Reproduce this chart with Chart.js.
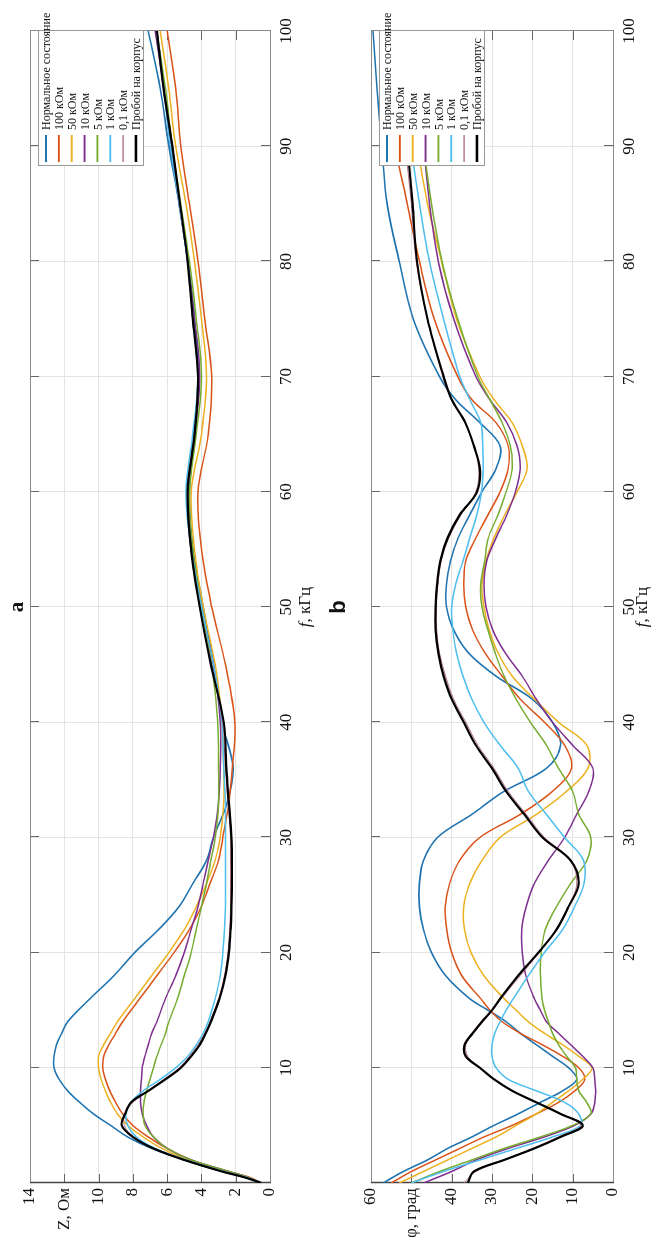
<!DOCTYPE html>
<html>
<head>
<meta charset="utf-8">
<script src="https://cdn.jsdelivr.net/npm/chart.js@4.4.0/dist/chart.umd.min.js"></script>
<style>
  html, body { margin: 0; padding: 0; background: #fff; width: 653px; height: 1237px; overflow: hidden; }
  body { position: relative; }
  .panel { position: absolute; top: 1237px; transform: rotate(-90deg); transform-origin: 0 0; }
  .panel canvas { display: block; }
  #panel-a { left: 0; width: 1237px; height: 320px; }
  #panel-b { left: 320px; width: 1237px; height: 333px; }
</style>
</head>
<body>
<div class="panel" id="panel-a"><canvas id="chart-a" width="1237" height="320"></canvas></div>
<div class="panel" id="panel-b"><canvas id="chart-b" width="1237" height="333"></canvas></div>
<script>
// --- data ---
const seriesNames = ['Нормальное состояние', '100 кОм', '50 кОм', '10 кОм', '5 кОм', '1 кОм', '0,1 кОм', 'Пробой на корпус'];
const freqTicks = [0, 10, 20, 30, 40, 50, 60, 70, 80, 90, 100];
const zTicks = [0, 2, 4, 6, 8, 10, 12, 14];
const phiTicks = [0, 10, 20, 30, 40, 50, 60];

// a) impedance, Z Ом
const freqZ = [0, 0.5, 1, 2, 3, 4, 5, 6, 7, 8, 9, 10, 11, 12, 13, 14, 16, 18, 20, 22, 24, 26, 28, 30, 33, 36, 40, 45, 50, 55, 60, 65, 70, 75, 80, 85, 90, 95, 100];
const zNormal = [0.5, 1.5, 2.8, 5.0, 6.9, 8.3, 9.3, 10.3, 11.1, 11.8, 12.3, 12.6, 12.6, 12.45, 12.15, 11.8, 10.5, 9.1, 7.9, 6.5, 5.3, 4.5, 3.7, 3.3, 2.5, 2.15, 2.8, 3.3, 3.9, 4.5, 4.7, 4.4, 4.2, 4.4, 4.8, 5.3, 5.9, 6.4, 7.1];
const z100k = [0.5, 1.2, 2.4, 4.6, 6.0, 7.1, 8.0, 8.6, 9.0, 9.35, 9.6, 9.75, 9.7, 9.4, 9.0, 8.6, 7.6, 6.6, 5.6, 4.7, 4.0, 3.5, 3.0, 2.75, 2.4, 2.2, 2.05, 2.6, 3.4, 4.0, 4.2, 3.6, 3.4, 3.8, 4.2, 4.7, 5.2, 5.5, 6.0];
const z50k = [0.5, 1.3, 2.5, 4.8, 6.3, 7.4, 8.3, 8.9, 9.3, 9.6, 9.85, 10.0, 10.0, 9.7, 9.3, 8.9, 7.9, 6.9, 5.9, 5.0, 4.3, 3.7, 3.2, 2.9, 2.7, 2.7, 2.8, 3.2, 3.9, 4.4, 4.6, 4.0, 3.7, 4.0, 4.4, 4.9, 5.5, 5.9, 6.4];
const z10k = [0.5, 1.3, 2.4, 4.6, 6.0, 6.8, 7.2, 7.45, 7.55, 7.55, 7.5, 7.45, 7.3, 7.1, 6.9, 6.6, 6.1, 5.5, 5.0, 4.6, 4.2, 3.9, 3.6, 3.3, 3.0, 2.9, 2.9, 3.3, 4.0, 4.6, 4.8, 4.4, 4.1, 4.4, 4.8, 5.3, 5.8, 6.2, 6.7];
const z5k = [0.5, 1.3, 2.4, 4.6, 6.0, 6.8, 7.3, 7.4, 7.35, 7.2, 7.0, 6.8, 6.6, 6.35, 6.1, 5.9, 5.4, 5.0, 4.6, 4.3, 4.0, 3.7, 3.45, 3.2, 3.0, 3.0, 3.05, 3.4, 4.0, 4.5, 4.7, 4.3, 4.0, 4.3, 4.7, 5.2, 5.7, 6.1, 6.6];
const z1k = [0.5, 1.4, 2.7, 4.9, 6.7, 7.8, 8.3, 8.4, 8.1, 7.4, 6.4, 5.5, 4.8, 4.3, 3.9, 3.6, 3.2, 2.9, 2.75, 2.65, 2.6, 2.6, 2.6, 2.6, 2.6, 2.7, 2.8, 3.3, 4.0, 4.6, 4.9, 4.5, 4.2, 4.5, 4.8, 5.3, 5.8, 6.2, 6.6];
const z01k = [0.5, 1.5, 2.8, 5.0, 6.8, 7.95, 8.5, 8.45, 8.0, 7.1, 6.2, 5.3, 4.7, 4.2, 3.8, 3.5, 3.0, 2.65, 2.45, 2.35, 2.3, 2.3, 2.3, 2.3, 2.45, 2.6, 2.75, 3.4, 4.1, 4.6, 4.8, 4.4, 4.2, 4.5, 4.8, 5.25, 5.7, 6.2, 6.6];
const zFault = [0.5, 1.5, 2.8, 5.0, 6.8, 8.0, 8.65, 8.45, 8.1, 7.1, 6.1, 5.2, 4.6, 4.1, 3.75, 3.45, 2.95, 2.6, 2.4, 2.3, 2.25, 2.22, 2.22, 2.25, 2.4, 2.55, 2.7, 3.45, 4.1, 4.6, 4.8, 4.4, 4.2, 4.5, 4.8, 5.25, 5.7, 6.2, 6.6];

// b) phase, φ град
const freqPhi = [0, 1, 2, 3, 4, 5, 6, 7, 8, 9, 10, 11, 12, 13, 14, 15, 16, 18, 20, 22, 24, 26, 28, 30, 32, 34, 36, 38, 40, 42, 44, 46, 48, 50, 52, 54, 56, 58, 60, 62, 64, 66, 68, 70, 75, 80, 85, 90, 95, 100];
const phiNormal = [57, 52, 46, 41, 35, 29.5, 23.5, 18, 12.5, 9, 11, 15, 19, 23, 26.5, 31, 35.5, 41.5, 45, 47, 48, 48, 47, 43.5, 35, 27, 16.5, 13, 15, 20, 29, 35.8, 39.5, 41.3, 41.3, 40.3, 38.4, 35.5, 32.5, 29, 28, 33, 39, 43, 49.5, 53, 56, 57.3, 58.5, 59.5];
const phi100k = [55, 50, 44, 38, 32, 25, 19, 13.5, 9.5, 7, 8.5, 12.5, 17.5, 23, 27.5, 30.5, 32.8, 37.5, 40, 41.2, 41.6, 40.5, 38, 33, 23, 15, 10.3, 12, 17, 23, 27.5, 31.7, 34.8, 36.5, 37, 36.5, 34, 31, 28, 26, 26, 29, 35, 38.5, 44.3, 48, 51, 54, 55.5, 57];
const phi50k = [53, 47, 41, 35, 29, 24, 19, 15, 11, 7.5, 5.2, 8.5, 12.5, 17, 21, 24, 27, 32, 35.2, 36.8, 37, 35.5, 32.5, 28, 19, 11.5, 6.2, 6.5, 13.5, 19.5, 25, 28.5, 30.7, 32, 32.5, 31.5, 29.5, 26.8, 23.8, 21.3, 22.5, 25, 29.5, 33, 38.8, 42.5, 46, 48.5, 50, 51];
const phi10k = [47, 40, 34, 26, 17, 9.5, 5.5, 4.5, 4.3, 4.5, 5, 7.5, 10.5, 13.5, 16.5, 18, 19.5, 21.6, 22.5, 22.6, 21.5, 19.5, 16, 12, 9, 6, 5, 10, 15, 19, 22.5, 26.7, 29.8, 31.5, 32, 31.3, 29, 26.3, 24.2, 23, 23.8, 26.3, 30.5, 34, 39.5, 43.3, 45.5, 47, 48.5, 50];
const phi5k = [50, 43, 35, 27, 18, 10, 5.5, 6.5, 8.5, 9, 9.3, 11.5, 13.5, 15, 16, 17, 17.6, 18, 17.8, 16.8, 14, 10.5, 6.5, 5.5, 8.5, 10, 13.5, 16.5, 20.5, 24, 27, 29.2, 31, 32.5, 32.8, 31.8, 30.9, 28.5, 26.5, 25, 25.5, 27.5, 30.5, 33.5, 38.5, 42.4, 45, 47, 48.5, 50];
const phi1k = [50, 42, 33, 24, 15, 8, 8.5, 12, 19, 26, 29, 30, 30, 29.3, 28, 26.5, 24.7, 21, 17, 12.5, 9.5, 7.2, 7.3, 12, 16.5, 21, 23.5, 28, 32, 35, 37.2, 38.8, 39.7, 40, 39, 37.2, 35.5, 33.8, 32.6, 32.2, 32.3, 32.8, 35.5, 38, 42, 45.5, 48, 50, 51.5, 53];
const phi01k = [37, 34, 27, 20, 13.5, 8, 13, 19, 25, 29.5, 33, 36, 36.5, 34.5, 32.2, 29.8, 27.7, 23, 18.3, 14, 11, 9, 10.5, 17, 21.5, 26, 29.5, 33.5, 36.5, 39.5, 41.5, 43, 43.7, 43.8, 43.4, 42.6, 40.7, 37.7, 34, 33.3, 34.6, 36.8, 40, 42.2, 46, 48.8, 50, 51.5, 53, 54.5];
const phiFault = [36, 34.5, 27, 19.5, 13, 7.5, 13, 19, 25, 29.5, 33, 36.5, 36.8, 34.8, 32.5, 30, 28, 23.5, 18.5, 14, 11, 8.5, 10.5, 17.5, 22, 26.5, 30, 34, 37, 40, 42, 43.3, 44, 44, 43.6, 42.8, 41, 38, 33.7, 33, 34.5, 36.6, 40, 42, 46, 48.6, 49.7, 51, 52.5, 54];

// --- styles ---
const lineColors = ['#1f74b0', '#d95319', '#edb120', '#7e2f8e', '#77ac30', '#4dbeee', '#b37089', '#000000'];
const lineWidths = [1.6, 1.5, 1.5, 1.5, 1.5, 1.5, 1.0, 2.2];
const serif = '"Liberation Serif", "DejaVu Serif", serif';

function toPoints(freq, vals) {
  return freq.map((f, i) => ({ x: f, y: vals[i] }));
}

function buildDatasets(freq, seriesList) {
  return seriesList.map((vals, i) => ({
    label: seriesNames[i],
    data: toPoints(freq, vals),
    borderColor: lineColors[i],
    borderWidth: lineWidths[i],
    pointRadius: 0,
    tension: 0.35,
    fill: false,
    order: seriesList.length - i   // later series on top, like the original
  }));
}

function line(ctx, x1, y1, x2, y2) {
  ctx.beginPath();
  ctx.moveTo(x1, y1);
  ctx.lineTo(x2, y2);
  ctx.stroke();
}

// box + inner tick marks
const framePlugin = {
  id: 'frame',
  beforeDatasetsDraw(chart) {
    const { ctx, chartArea: a, scales } = chart;
    const len = 9;
    ctx.save();
    ctx.strokeStyle = '#666';
    ctx.lineWidth = 1;
    scales.x.ticks.forEach(t => {
      const px = Math.round(scales.x.getPixelForValue(t.value)) + 0.5;
      line(ctx, px, a.top, px, a.top + len);
      line(ctx, px, a.bottom, px, a.bottom - len);
    });
    scales.y.ticks.forEach(t => {
      const py = Math.round(scales.y.getPixelForValue(t.value)) + 0.5;
      line(ctx, a.left, py, a.left + len, py);
      line(ctx, a.right, py, a.right - len, py);
    });
    ctx.strokeStyle = '#8a8a8a';
    ctx.strokeRect(Math.round(a.left) + 0.5, Math.round(a.top) + 0.5, Math.round(a.right - a.left), Math.round(a.bottom - a.top));
    ctx.strokeStyle = '#444';
    ctx.lineWidth = 1.5;
    line(ctx, a.left + 0.5, a.top, a.left + 0.5, a.bottom + 1);
    ctx.restore();
  }
};

// legend box, axis title and panel caption
const decorPlugin = {
  id: 'decor',
  afterDatasetsDraw(chart) {
    const { ctx, chartArea: a } = chart;
    const bx = a.right - 135, by = a.top + 8, bw = 135, bh = 105;
    ctx.save();
    ctx.fillStyle = '#fff';
    ctx.fillRect(bx, by, bw, bh);
    ctx.strokeStyle = '#999';
    ctx.lineWidth = 1;
    ctx.strokeRect(bx + 0.5, by + 0.5, bw, bh);
    ctx.font = '12px ' + serif;
    ctx.textBaseline = 'middle';
    ctx.textAlign = 'left';
    chart.data.datasets.forEach((ds, i) => {
      const cy = by + 8 + 12.85 * i;
      ctx.strokeStyle = ds.borderColor;
      ctx.lineWidth = ds.borderWidth + 0.4;
      line(ctx, a.right - 131, cy, a.right - 104, cy);
      ctx.fillStyle = '#111';
      ctx.fillText(ds.label, a.right - 99, cy + 1);
    });
    ctx.restore();
  },
  afterDraw(chart, args, opts) {
    const { ctx, chartArea: a } = chart;
    const cx = (a.left + a.right) / 2;
    ctx.save();
    ctx.fillStyle = '#111';
    ctx.textBaseline = 'alphabetic';
    // x axis title: italic f, then units
    ctx.font = 'italic 17px ' + serif;
    const w1 = ctx.measureText('f').width;
    ctx.font = '17px ' + serif;
    const w2 = ctx.measureText(', кГц').width;
    const x0 = cx - (w1 + w2) / 2;
    ctx.textAlign = 'left';
    ctx.font = 'italic 17px ' + serif;
    ctx.fillText('f', x0, a.bottom + opts.titleOffset);
    ctx.font = '17px ' + serif;
    ctx.fillText(', кГц', x0 + w1, a.bottom + opts.titleOffset);
    // caption
    ctx.textAlign = 'center';
    ctx.font = opts.captionFont;
    ctx.fillText(opts.caption, cx, opts.captionY);
    ctx.restore();
  }
};

function makeChart(id, freq, seriesList, yMax, yTicks, titleValue, titleText, geo) {
  return new Chart(document.getElementById(id), {
    type: 'line',
    data: { datasets: buildDatasets(freq, seriesList) },
    plugins: [framePlugin, decorPlugin],
    options: {
      responsive: false,
      animation: false,
      events: [],
      layout: { padding: { top: geo.top, right: 31, bottom: 0, left: 0 } },
      scales: {
        x: {
          type: 'linear',
          min: 0,
          max: 100,
          afterBuildTicks: s => { s.ticks = freqTicks.map(v => ({ value: v })); },
          afterFit: s => { s.height = geo.xHeight; },
          grid: { color: '#e4e4e4', drawTicks: false },
          border: { display: false },
          ticks: {
            autoSkip: false, maxRotation: 0, padding: 6, color: '#111',
            font: { family: serif, size: 17 },
            callback: v => (v === 0 ? '' : v)
          }
        },
        y: {
          type: 'linear',
          min: 0,
          max: yMax,
          afterBuildTicks: s => { s.ticks = yTicks.map(v => ({ value: v })); },
          afterFit: s => { s.width = 54; },
          grid: { color: '#e4e4e4', drawTicks: false },
          border: { display: false },
          ticks: {
            padding: 5, color: '#111',
            font: { family: serif, size: 17 },
            callback: v => (v === titleValue ? titleText : v)
          }
        }
      },
      plugins: {
        legend: { display: false },
        tooltip: { enabled: false },
        decor: { caption: geo.caption, captionFont: geo.captionFont, captionY: geo.captionY, titleOffset: geo.titleOffset }
      }
    }
  });
}

makeChart('chart-a', freqZ, [zNormal, z100k, z50k, z10k, z5k, z1k, z01k, zFault], 14, zTicks, 12, 'Z, Ом',
  { top: 30, xHeight: 50, caption: 'a', captionFont: 'bold 21px ' + serif, captionY: 23, titleOffset: 40 });

makeChart('chart-b', freqPhi, [phiNormal, phi100k, phi50k, phi10k, phi5k, phi1k, phi01k, phiFault], 60, phiTicks, 50, 'φ, град',
  { top: 51, xHeight: 40, caption: 'b', captionFont: 'bold 22px "Liberation Sans", Arial, sans-serif', captionY: 25, titleOffset: 34 });
</script>
</body>
</html>
